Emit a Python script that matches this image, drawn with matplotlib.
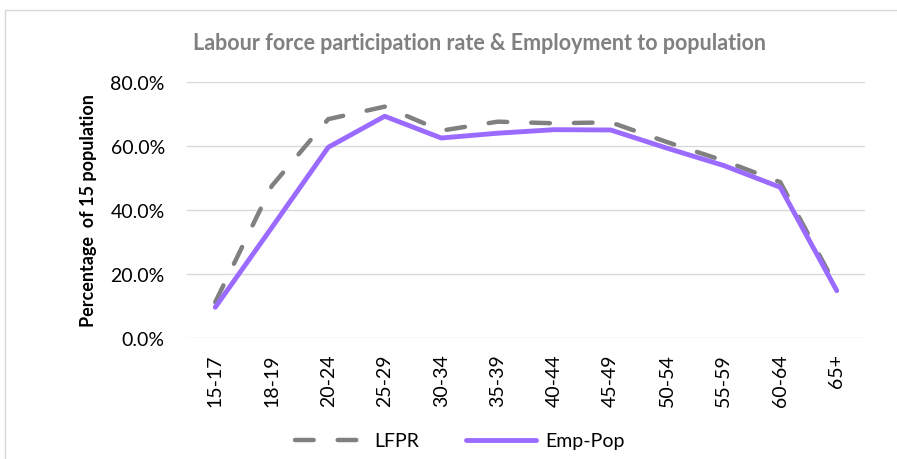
import matplotlib.pyplot as plt
from matplotlib.patches import Rectangle
from matplotlib.ticker import PercentFormatter

# age groups and rates (%)
age_groups = ['15-17', '18-19', '20-24', '25-29', '30-34', '35-39',
              '40-44', '45-49', '50-54', '55-59', '60-64', '65+']
lfpr = [11.2, 47.5, 68.4, 72.3, 64.8, 67.6, 67.1, 67.4, 61.2, 55.4, 48.7, 15.8]
emp_pop = [9.6, 34.5, 59.6, 69.3, 62.5, 64.0, 65.1, 65.0, 59.3, 53.9, 47.1, 14.8]

plt.rcParams['font.family'] = ['Lato', 'DejaVu Sans']

fig = plt.figure(figsize=(8.97, 4.6), dpi=100)
# chart area border
fig.patches.append(Rectangle((5 / 897, -0.1), 1.2, 1.1 - 11 / 460, transform=fig.transFigure,
                             fill=False, edgecolor='#d9d9d9', linewidth=1))

ax = fig.add_axes([187 / 897, 1 - 339 / 460, 678 / 897, 256 / 460])
x = range(len(age_groups))
ax.plot(x, lfpr, color='#808080', linewidth=3.2, dashes=(4.2, 5.4),
        dash_capstyle='round', label='LFPR', zorder=3)
ax.plot(x, emp_pop, color='#9b6bff', linewidth=3.5, solid_capstyle='round',
        solid_joinstyle='round', label='Emp-Pop', zorder=4)

ax.set_xlim(-0.5, len(age_groups) - 0.5)
ax.set_ylim(0, 80)
ax.set_yticks([0, 20, 40, 60, 80])
ax.yaxis.set_major_formatter(PercentFormatter(decimals=1))
ax.set_xticks(list(x))
ax.set_xticklabels(age_groups, rotation=90)
ax.tick_params(axis='both', length=0, labelsize=14, colors='black')
ax.tick_params(axis='x', pad=11)
ax.tick_params(axis='y', pad=16)
ax.grid(axis='y', color='#d9d9d9', linewidth=1)
ax.set_axisbelow(True)
for s in ax.spines.values():
    s.set_visible(False)

ax.set_ylabel('Percentage  of 15 population', fontsize=13, fontweight='bold', labelpad=10)

fig.text(479 / 897, 1 - 43 / 460, 'Labour force participation rate & Employment to population',
         ha='center', va='center', fontsize=15.5, fontweight='bold', color='#808080')

fig.legend(loc='center', bbox_to_anchor=(460 / 897, 1 - 442 / 460), ncol=2, frameon=False,
           fontsize=14, handlelength=3.6, columnspacing=2.4, handletextpad=0.5)

fig.savefig('out.png', dpi=100)
